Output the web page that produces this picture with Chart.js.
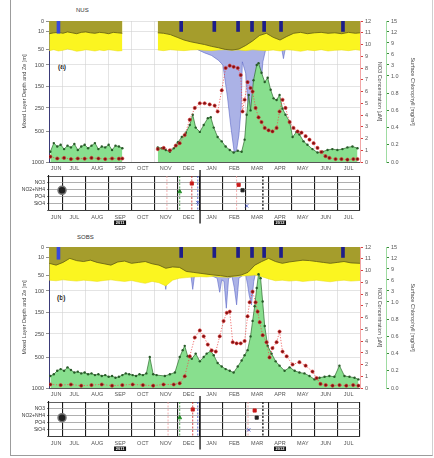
<!DOCTYPE html>
<html>
<head>
<meta charset="utf-8">
<script src="https://cdn.jsdelivr.net/npm/chart.js@4.4.1/dist/chart.umd.min.js"></script>
<style>
html, body { margin: 0; padding: 0; background: #fff; }
body { width: 434px; height: 458px; position: relative; overflow: hidden; font-family: "Liberation Sans", Arial, sans-serif; }
canvas { position: absolute; }
.frame { position: absolute; left: 10px; top: 0; width: 423px; height: 456px; box-sizing: border-box;
  border-left: 1px solid #9c9c9c; border-right: 1px solid #cfcfcf; border-bottom: 1px solid #9c9c9c; }
.txt { position: absolute; font-size: 6px; color: #333; line-height: 6px; }
.tag { position: absolute; font-size: 6.5px; font-weight: bold; color: #222; line-height: 7px; }
</style>
</head>
<body>
<div class="frame"></div>
<div class="txt" style="left:76px;top:7px">NUS</div>
<div class="txt" style="left:77px;top:234px">SOBS</div>
<div class="tag" style="left:58px;top:63px">(a)</div>
<div class="tag" style="left:57px;top:294px">(b)</div>

<canvas id="main1" width="420" height="175" style="left:10px;top:0px"></canvas>
<canvas id="ev1" width="420" height="60" style="left:10px;top:170px"></canvas>
<canvas id="main2" width="420" height="175" style="left:10px;top:226px"></canvas>
<canvas id="ev2" width="420" height="60" style="left:10px;top:396px"></canvas>

<script>
// time axis: months counted from 1 June of the first year
const MONTHS = ['JUN','JUL','AUG','SEP','OCT','NOV','DEC','JAN','FEB','MAR','APR','MAY','JUN','JUL'];
const MONTH_MID = [0.7,1.5,2.5,3.5,4.5,5.5,6.5,7.5,8.5,9.5,10.5,11.5,12.5,13.5];
const MONTH_EDGE = [1,2,3,4,5,6,7,8,9,10,11,12,13,14];
const YEAR_SPLIT = 7;
const YEAR_POS = [3.5, 10.5];
const YEAR_LABELS = ['2011', '2012'];

// axis tick labels
const DEPTH_TICKS = [0, 10, 50, 100, 150, 250, 500, 1000];
const CHL_TICKS = [0, 0.2, 0.4, 0.6, 0.8, 1, 3, 6, 9, 12, 15];
const NO3_MAX = 12;
const ROW_LABELS = ['NO3', 'NO2+NH4', 'PO4', 'SiO4'];

// sampling events (blue marks at the top)
const EVENT_T = [0.87, 6.24, 7.69, 8.73, 9.34, 9.87, 10.61, 13.32];
const EVENT_DEPTH = [15, 11, 11, 11, 11, 11, 11, 11];

// ---- panel (a)
const P1_LAYER_T = [0.4,0.6,0.8,1.0,1.2,1.4,1.6,1.8,2.0,2.2,2.4,2.6,2.8,3.0,3.2,3.4,3.6, 4.4,
  5.15,5.4,5.7,6.0,6.3,6.6,6.9,7.2,7.5,7.8,8.1,8.4,8.7,9.0,9.3,9.6,9.9,10.2,10.5,10.8,11.1,11.4,11.7,12.0,12.3,12.6,12.9,13.2,13.5,13.8,14.0];
const P1_MLD = [16,14,13,15,12,14,16,13,12,14,15,13,14,16,13,14,15, null,
  14,15,18,24,30,34,37,40,44,47,51,53,50,42,32,20,15,24,30,22,15,13,16,14,13,15,14,16,13,15,14];
const P1_ZE = [55,52,56,54,50,53,57,55,52,54,56,53,55,52,54,56,55, null,
  53,55,52,54,55,53,52,54,55,53,52,54,53,55,52,54,55,53,56,52,54,57,53,55,52,56,54,53,55,52,54];
const P1_DEEP_T = [6.3,6.6,6.9,7.2,7.5,7.8,8.0,8.2,8.35,8.5,8.6,8.7,8.8,8.85,9.0,9.15,9.3,9.45,9.6,9.75,9.9,10.0,10.5,10.65,10.8,10.9,11.1];
const P1_DEEP = [30,40,52,62,70,85,100,200,450,850,800,550,250,90,120,380,400,330,220,90,45,25,28,80,30,20,15];
const P1_CHL_T = [0.45,0.6,0.75,0.9,1.05,1.2,1.35,1.5,1.65,1.8,1.95,2.1,2.25,2.4,2.55,2.7,2.85,3.0,3.15,3.3,3.45,3.6, 4.4,
  5.15,5.33,5.5,5.68,5.85,6.03,6.2,6.38,6.55,6.68,6.81,6.99,7.16,7.34,7.47,7.6,7.77,7.95,8.12,8.3,
  8.47,8.65,8.82,8.95,9.04,9.13,9.21,9.34,9.48,9.56,9.69,9.83,9.96,10.09,10.22,10.35,10.48,10.61,10.74,10.92,
  11.05,11.22,11.35,11.53,11.7,11.92,12.14,12.36,12.58,12.79,13.01,13.23,13.45,13.67,13.89];
const P1_CHL = [0.12,0.22,0.18,0.2,0.15,0.19,0.17,0.21,0.14,0.18,0.2,0.16,0.19,0.22,0.15,0.18,0.17,0.2,0.14,0.19,0.18,0.16, null,
  0.17,0.16,0.14,0.12,0.16,0.23,0.29,0.34,0.43,0.55,0.4,0.35,0.43,0.51,0.52,0.4,0.29,0.24,0.18,0.14,
  0.11,0.13,0.12,0.26,0.55,0.78,0.6,0.95,3.0,3.5,1.6,0.93,0.98,0.84,0.74,0.72,0.78,0.62,0.55,0.47,
  0.29,0.35,0.32,0.24,0.2,0.15,0.11,0.12,0.14,0.15,0.14,0.15,0.17,0.18,0.16];
const P1_NO3_T = [0.45,0.75,1.05,1.35,1.65,1.95,2.25,2.55,2.85,3.15,3.45,3.6, 4.4,
  5.15,5.41,5.68,5.94,6.11,6.33,6.55,6.77,6.99,7.2,7.42,7.64,7.77,7.95,8.12,8.3,8.47,8.65,8.78,8.86,
  8.95,9.08,9.21,9.3,9.43,9.56,9.69,9.83,10.0,10.17,10.35,10.48,10.61,10.74,10.92,11.09,11.27,11.44,11.62,11.79,
  11.97,12.14,12.31,12.49,12.66,12.93,13.19,13.45,13.71,13.89];
const P1_NO3 = [0.45,0.3,0.35,0.25,0.3,0.28,0.35,0.3,0.25,0.3,0.28,0.3, null,
  1.1,1.2,1.0,1.4,1.6,2.3,3.6,4.6,5.0,5.0,4.9,4.8,4.3,6.1,8.0,8.2,8.1,8.0,7.4,4.3,
  5.3,6.8,6.3,6.0,4.6,3.8,3.4,2.9,2.7,2.6,2.9,4.3,5.3,4.6,3.4,2.9,2.6,2.5,2.2,1.9,
  1.6,1.2,0.85,0.5,0.35,0.25,0.25,0.2,0.25,0.25];

// ---- panel (b)
const P2_LAYER_T = [0.4,0.7,1.0,1.3,1.6,1.9,2.2,2.5,2.8,3.1,3.4,3.7,4.0,4.3,4.6,4.9,5.2,5.5,5.8,6.1,6.4,6.7,7.0,7.3,7.6,7.9,8.2,8.5,8.8,9.1,
  9.4,9.7,10.0,10.3,10.6,10.9,11.2,11.5,11.8,12.1,12.4,12.7,13.0,13.3,13.6,14.0];
const P2_MLD = [24,28,22,13,18,20,17,22,25,28,21,19,24,22,20,25,28,35,32,33,42,44,46,48,50,52,55,53,50,44,
  28,20,13,20,24,21,19,17,18,20,22,24,22,20,23,24];
const P2_ZE = [66,68,65,67,69,66,68,70,67,65,68,70,67,72,76,70,74,84,66,60,58,56,55,56,54,56,57,55,53,52,
  50,55,62,68,66,69,67,70,68,66,69,71,68,66,69,67];
const P2_DEEP_T = [5.2,5.4,5.5,5.6,5.8,6.4,6.6,6.68,6.76,7.0,7.5,7.75,7.86,7.95,8.05,8.15,8.25,8.4,8.5,8.6,8.7,8.85,9.0,9.08,9.15,9.25,9.35,9.5,9.7,9.8,10.0];
const P2_DEEP = [25,40,95,40,30,42,50,95,50,48,52,60,103,65,70,141,60,55,90,133,60,52,50,80,110,133,70,30,45,25,15];
const P2_CHL_T = [0.45,0.6,0.75,0.9,1.05,1.2,1.35,1.5,1.65,1.8,1.95,2.1,2.25,2.4,2.55,2.7,2.85,3.0,3.15,3.3,3.45,3.6,3.75,3.9,4.05,4.2,4.35,4.5,4.65,4.8,4.95,5.1,
  5.46,5.68,5.9,6.11,6.24,6.33,6.46,6.64,6.81,6.99,7.16,7.29,7.47,7.6,7.77,7.95,8.12,8.3,8.47,8.65,
  8.82,8.95,9.08,9.21,9.3,9.39,9.48,9.56,9.65,9.74,9.83,9.96,10.13,10.31,10.48,10.7,10.92,11.14,11.35,11.57,
  11.79,12.01,12.23,12.45,12.66,12.88,13.1,13.32,13.54,13.76,13.93];
const P2_CHL = [0.14,0.16,0.2,0.22,0.2,0.24,0.21,0.18,0.19,0.17,0.18,0.16,0.17,0.15,0.16,0.14,0.15,0.13,0.14,0.12,0.13,0.15,0.17,0.16,0.15,0.14,0.16,0.15,0.17,0.36,0.16,0.15,
  0.14,0.16,0.18,0.36,0.44,0.49,0.37,0.34,0.4,0.31,0.36,0.4,0.43,0.38,0.29,0.25,0.22,0.2,0.18,0.25,
  0.32,0.38,0.44,0.6,0.78,0.95,3.8,7.6,6.5,1.1,0.72,0.49,0.4,0.31,0.26,0.2,0.24,0.2,0.18,0.17,
  0.14,0.1,0.12,0.13,0.14,0.13,0.26,0.14,0.13,0.12,0.1];
const P2_NO3_T = [0.45,0.9,1.35,1.8,2.25,2.7,3.15,3.6,4.05,4.5,4.95,5.4,5.85,
  6.11,6.33,6.55,6.77,6.99,7.16,7.34,7.51,7.69,7.86,8.03,8.17,8.3,8.43,8.6,8.78,8.95,9.08,9.17,9.3,
  9.43,9.52,9.61,9.74,9.91,10.04,10.17,10.35,10.48,10.61,10.79,11.05,11.35,11.62,11.92,12.1,12.27,12.5,12.8,13.1,
  13.4,13.7,13.93];
const P2_NO3 = [0.3,0.25,0.3,0.2,0.25,0.3,0.2,0.25,0.3,0.25,0.2,0.3,0.3,
  0.4,1.0,2.7,4.3,4.9,4.4,3.7,3.2,3.1,4.4,5.7,6.4,6.5,3.9,3.8,3.8,4.0,6.1,7.3,8.2,
  7.3,6.5,5.6,4.5,3.9,2.6,3.4,3.9,4.8,3.1,2.7,2.0,2.2,1.9,1.4,0.85,0.35,0.25,0.2,0.25,
  0.2,0.25,0.2];

// ---- event strips under each panel
const P1_EV_T = [0.96, 6.11, 6.64, 6.9, 8.69, 8.86, 9.04];
const P1_EV_ROW = [2.1, 2.3, 1.1, 3.9, 1.3, 2.1, 4.4];
const P1_EV_KIND = ['ship', 'chl', 'no3', 'si', 'no3', 'mix', 'si'];
const P1_LINE_T = [5.55, 6.11, 6.64, 6.9, 8.6, 9.75];
const P1_LINE_KIND = ['pink', 'chl', 'no3', 'si', 'pink', 'mix'];

const P2_EV_T = [0.96, 6.11, 6.68, 9.13, 9.39, 9.48];
const P2_EV_ROW = [2.3, 2.3, 1.1, 4.1, 1.25, 2.3];
const P2_EV_KIND = ['ship', 'chl', 'no3', 'si', 'no3', 'mix'];
const P2_LINE_T = [5.6, 6.11, 6.68, 6.9, 9.1, 9.75];
const P2_LINE_KIND = ['pink', 'chl', 'no3', 'si', 'pink', 'mix'];

// axis layout (where each tick label sits along the axis, as a fraction of its length)
const DEPTH_FRAC = [0, 0.071, 0.199, 0.312, 0.461, 0.617, 0.787, 1];
const CHL_FRAC = [0, 0.122, 0.244, 0.366, 0.488, 0.61, 0.688, 0.766, 0.844, 0.922, 1];
const X_MIN = 0.39, X_MAX = 14;

Chart.defaults.font.family = '"Liberation Sans", Arial, sans-serif';
Chart.defaults.font.size = 5.5;
Chart.defaults.color = '#444';

function warp(v, from, to) {
  if (v == null) return null;
  if (v <= from[0]) return to[0];
  for (let i = 1; i < from.length; i++) {
    if (v <= from[i]) return to[i - 1] + (v - from[i - 1]) / (from[i] - from[i - 1]) * (to[i] - to[i - 1]);
  }
  return to[to.length - 1];
}
const depthF = d => warp(d, DEPTH_TICKS, DEPTH_FRAC);
const chlF = c => warp(c, CHL_TICKS, CHL_FRAC);
const pts = (t, v, f) => t.map((x, i) => ({ x: x, y: v[i] == null ? null : (f ? f(v[i]) : v[i]) }));

function xAxes(gridColor, gridWidth, labelPad) {
  return {
    xg: {
      type: 'linear', position: 'bottom', min: X_MIN, max: X_MAX, weight: 0, offset: false,
      afterBuildTicks: s => { s.ticks = MONTH_EDGE.map(v => ({ value: v })); },
      ticks: { display: false },
      grid: { color: gridColor, lineWidth: gridWidth, drawTicks: false, offset: false },
      border: { color: '#333', width: 0.8 },
      afterFit: s => { s.height = 0; }
    },
    x: {
      type: 'linear', position: 'bottom', min: X_MIN, max: X_MAX, weight: 1, offset: false,
      afterBuildTicks: s => { s.ticks = MONTH_MID.map(v => ({ value: v })); },
      ticks: { display: true, autoSkip: false, maxRotation: 0, padding: labelPad, color: '#555', callback: (v, i) => MONTHS[i] },
      grid: { display: false, drawTicks: false, offset: false },
      border: { display: false },
      afterFit: s => { s.height = 13; }
    }
  };
}

function mainChart(id, p) {
  return new Chart(document.getElementById(id), {
    type: 'line',
    data: {
      datasets: [
        { type: 'bar', xAxisID: 'x', yAxisID: 'yD', order: 0, barThickness: 3,
          data: EVENT_T.map((t, i) => ({ x: t, y: [0, depthF(EVENT_DEPTH[i])] })),
          backgroundColor: EVENT_T.map((t, i) => i === 0 ? '#3848dc' : '#1d1d8a') },
        { yAxisID: 'yN', order: 1, data: pts(p.no3T, p.no3),
          borderColor: '#ee4a4a', borderWidth: 0.8, borderDash: [1.2, 1.6], fill: false,
          pointRadius: 1.6, pointBackgroundColor: '#7c1212', pointBorderColor: '#e03030', pointBorderWidth: 0.6 },
        { yAxisID: 'yC', order: 2, data: pts(p.chlT, p.chl, chlF), fill: 'origin',
          backgroundColor: '#88df8e', borderColor: '#2d6a2d', borderWidth: 0.7,
          pointRadius: 1.2, pointBackgroundColor: '#285a28', pointBorderWidth: 0 },
        { yAxisID: 'yD', order: 3, data: pts(p.layerT, p.mld, depthF), fill: 'origin',
          backgroundColor: '#a59d2c', borderColor: '#5f5a12', borderWidth: 0.8, pointRadius: 0 },
        { yAxisID: 'yD', order: 4, data: pts(p.layerT, p.ze, depthF), fill: 'origin',
          backgroundColor: '#fbf520', borderColor: '#e6da12', borderWidth: 0.5, pointRadius: 0 },
        { yAxisID: 'yD', order: 5, data: pts(p.deepT, p.deep, depthF), fill: 'origin',
          backgroundColor: '#abb2e6', borderColor: '#5a66c8', borderWidth: 0.6, pointRadius: 0 }
      ]
    },
    options: {
      responsive: false, animation: false, events: [],
      layout: { padding: { top: 21, right: 10, left: 0, bottom: 0 } },
      plugins: { legend: { display: false }, tooltip: { enabled: false } },
      scales: Object.assign(xAxes('#d2d2d2', 0.6, 3), {
        yD: {
          type: 'linear', position: 'left', reverse: true, min: 0, max: 1,
          afterBuildTicks: s => { s.ticks = DEPTH_FRAC.map(v => ({ value: v })); },
          ticks: { autoSkip: false, padding: 2, color: '#444', callback: (v, i) => DEPTH_TICKS[i] },
          grid: { color: '#d2d2d2', lineWidth: 0.6, tickLength: 3, tickColor: '#444' },
          border: { color: '#3a3a78', width: 1 },
          title: { display: true, text: 'Mixed Layer Depth and Ze [m]', color: '#444', padding: { top: 11, bottom: 0 } },
          afterFit: s => { s.width = 39; }
        },
        yN: {
          type: 'linear', position: 'right', min: 0, max: NO3_MAX, weight: 0,
          ticks: { stepSize: 1, autoSkip: false, padding: 2, color: '#555' },
          grid: { drawOnChartArea: false, tickLength: 3, tickColor: '#d84040' },
          border: { color: '#f2a6a6', width: 1 },
          title: { display: true, text: 'NO3 Concentration [µM]', color: '#444', padding: { top: 2.7, bottom: 0 } },
          afterFit: s => { s.width = 26; }
        },
        yC: {
          type: 'linear', position: 'right', min: 0, max: 1, weight: 1,
          afterBuildTicks: s => { s.ticks = CHL_FRAC.map(v => ({ value: v })); },
          ticks: { autoSkip: false, padding: 2, color: '#555',
            callback: (v, i) => CHL_TICKS[i] <= 1 ? CHL_TICKS[i].toFixed(1) : String(CHL_TICKS[i]) },
          grid: { drawOnChartArea: false, tickLength: 3, tickColor: '#3a8a3a' },
          border: { color: '#9fdca2', width: 1 },
          title: { display: true, text: 'Surface Chlorophyll [mg/m³]', color: '#444', padding: { top: 3.7, bottom: 0 } },
          afterFit: s => { s.width = 34; }
        }
      })
    }
  });
}

const KIND_COLOR = { ship: '#222', chl: '#1e8a22', no3: '#c81818', si: '#3344c4', mix: '#222', pink: '#f09a9a' };
const KIND_STYLE = { ship: 'circle', chl: 'triangle', no3: 'rect', si: 'crossRot', mix: 'rect' };

const yearBoxes = {
  id: 'yearBoxes',
  afterDraw(chart) {
    const ctx = chart.ctx, x = chart.scales.x, y0 = chart.chartArea.bottom + 10.5;
    ctx.save();
    YEAR_POS.forEach((pos, i) => {
      const px = x.getPixelForValue(pos);
      ctx.fillStyle = '#111';
      ctx.fillRect(px - 6, y0, 12, 4.5);
      ctx.fillStyle = '#fff';
      ctx.font = 'bold 4px "Liberation Sans", Arial, sans-serif';
      ctx.textAlign = 'center';
      ctx.textBaseline = 'middle';
      ctx.fillText(YEAR_LABELS[i], px, y0 + 2.4);
    });
    ctx.restore();
  }
};

function eventChart(id, evT, evRow, evKind, lineT, lineKind) {
  const ds = lineT.map((t, i) => ({
    data: [{ x: t, y: 0 }, { x: t, y: 5 }], yAxisID: 'yS',
    borderColor: KIND_COLOR[lineKind[i]], borderWidth: lineKind[i] === 'mix' ? 1.4 : 0.8,
    borderDash: [2, 1.5], pointRadius: 0, fill: false
  }));
  ds.push({ data: [{ x: YEAR_SPLIT, y: -1 }, { x: YEAR_SPLIT, y: 7 }], yAxisID: 'yS',
    borderColor: '#111', borderWidth: 1.3, pointRadius: 0, fill: false, clip: false });
  ds.unshift({
    data: evT.map((t, i) => ({ x: t, y: evRow[i] })), yAxisID: 'yS', showLine: false,
    pointStyle: evKind.map(k => KIND_STYLE[k]),
    pointRadius: evKind.map(k => k === 'ship' ? 4 : 2.3),
    pointBackgroundColor: evKind.map(k => KIND_COLOR[k]),
    pointBorderColor: evKind.map(k => k === 'ship' ? '#777' : KIND_COLOR[k]),
    pointBorderWidth: evKind.map(k => k === 'ship' ? 1.5 : 0.8)
  });
  return new Chart(document.getElementById(id), {
    type: 'line',
    data: { datasets: ds },
    options: {
      responsive: false, animation: false, events: [],
      layout: { padding: { top: 6, right: 70, left: 0, bottom: 7 } },
      plugins: { legend: { display: false }, tooltip: { enabled: false } },
      scales: Object.assign(xAxes('#1a1a1a', 1.1, 4.5), {
        yS: {
          type: 'linear', position: 'left', reverse: true, min: 0, max: 5,
          ticks: { stepSize: 1, autoSkip: false, padding: 2, color: '#333', font: { size: 5 },
            callback: v => ROW_LABELS[v - 1] || '' },
          grid: { color: c => (c.tick && (c.tick.value === 0 || c.tick.value === 5)) ? '#1a1a1a' : '#8c8c8c',
            lineWidth: 0.7, tickLength: 2, tickColor: '#333' },
          border: { color: '#1a1a1a', width: 1.1 },
          afterFit: s => { s.width = 39; }
        }
      })
    },
    plugins: [yearBoxes]
  });
}

mainChart('main1', { layerT: P1_LAYER_T, mld: P1_MLD, ze: P1_ZE, deepT: P1_DEEP_T, deep: P1_DEEP,
  chlT: P1_CHL_T, chl: P1_CHL, no3T: P1_NO3_T, no3: P1_NO3 });
mainChart('main2', { layerT: P2_LAYER_T, mld: P2_MLD, ze: P2_ZE, deepT: P2_DEEP_T, deep: P2_DEEP,
  chlT: P2_CHL_T, chl: P2_CHL, no3T: P2_NO3_T, no3: P2_NO3 });
eventChart('ev1', P1_EV_T, P1_EV_ROW, P1_EV_KIND, P1_LINE_T, P1_LINE_KIND);
eventChart('ev2', P2_EV_T, P2_EV_ROW, P2_EV_KIND, P2_LINE_T, P2_LINE_KIND);
</script>
</body>
</html>
